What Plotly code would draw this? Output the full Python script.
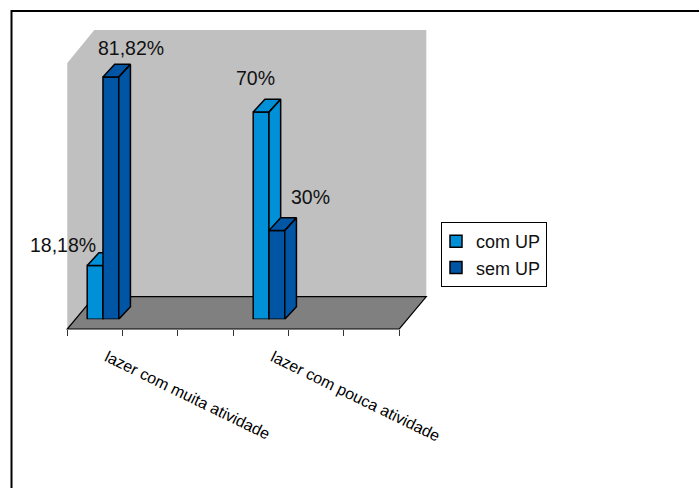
import plotly.graph_objects as go

W, H = 699, 488

# ---- data ----
categories = ["lazer com muita atividade", "lazer com pouca atividade"]
series_names = ["com UP", "sem UP"]
com_up = [18.18, 70]
sem_up = [81.82, 30]
com_labels = ["18,18%", "70%"]
sem_labels = ["81,82%", "30%"]
category_slots = [0, 3]   # chart has six slots, the categories sit in slots 0 and 3
colors = ["#0090D8", "#0055A5"]

# ---- helpers (pixel layout -> paper fractions) ----
def px(x): return x / W
def py(y): return 1 - y / H

plot_l, plot_r = 75.3, 407.3
base_y, top_y = 319.3, 52.7
floor_l, floor_r, floor_front, floor_back = 67.3, 399.3, 329, 296.6
depth_x = 27
wall_top = 30

bar_w = 0.285
dx = 11.7 / 55.33   # depth of a bar in x units
dy = 12.6 / 2.962   # depth of a bar in y units


def faces(xs, ys, left):
    """outline of top + side faces of each bar, derived from the values"""
    X, Y = [], []
    for x, y in zip(xs, ys):
        x0 = x + 0.5 + left
        x1 = x0 + bar_w
        X += [x0, x0 + dx, x1 + dx, x1, x0, None]
        Y += [y, y + dy, y + dy, y, y, None]
        X += [x1, x1 + dx, x1 + dx, x1, x1, None]
        Y += [y, y + dy, dy, 0, y, None]
    return X, Y


fig = go.Figure()
slots = [s + 0.5 for s in category_slots]

# lower layer: first series
fig.add_trace(go.Bar(x=slots, y=com_up, name=series_names[0], marker_color=colors[0],
                     marker_line=dict(color="black", width=1.5), width=bar_w,
                     offset=-bar_w, xaxis="x", yaxis="y", hoverinfo="skip"))
X, Y = faces(category_slots, com_up, -bar_w)
fig.add_trace(go.Scatter(x=X, y=Y, mode="lines", fill="toself", fillcolor=colors[0],
                         line=dict(color="black", width=1.5), showlegend=False,
                         xaxis="x", yaxis="y", hoverinfo="skip"))

# upper layer: second series
fig.add_trace(go.Bar(x=slots, y=sem_up, name=series_names[1], marker_color=colors[1],
                     marker_line=dict(color="black", width=1.5), width=bar_w,
                     offset=0, xaxis="x2", yaxis="y2", hoverinfo="skip"))
X, Y = faces(category_slots, sem_up, 0)
fig.add_trace(go.Scatter(x=X, y=Y, mode="lines", fill="toself", fillcolor=colors[1],
                         line=dict(color="black", width=1.5), showlegend=False,
                         xaxis="x2", yaxis="y2", hoverinfo="skip"))

shapes = [
    dict(type="rect", xref="paper", yref="paper", x0=px(11.5), x1=px(760), y0=py(11), y1=py(540),
         line=dict(color="black", width=2), layer="below"),
    dict(type="path", xref="paper", yref="paper", layer="below", line=dict(width=0),
         fillcolor="#C0C0C0",
         path=f"M{px(floor_l)},{py(floor_front)}L{px(floor_l)},{py(floor_front-266)}"
              f"L{px(floor_l+depth_x)},{py(wall_top)}L{px(floor_r+depth_x)},{py(wall_top)}"
              f"L{px(floor_r+depth_x)},{py(floor_back)}L{px(floor_l+depth_x)},{py(floor_back)}Z"),
    dict(type="path", xref="paper", yref="paper", layer="below",
         line=dict(color="black", width=1.2), fillcolor="#808080",
         path=f"M{px(floor_l)},{py(floor_front)}L{px(floor_r)},{py(floor_front)}"
              f"L{px(floor_r+depth_x)},{py(floor_back)}L{px(floor_l+depth_x)},{py(floor_back)}Z"),
]

xdom = [px(plot_l), px(plot_r)]
ydom = [py(base_y), py(top_y)]
lblfont = dict(family="Liberation Sans", size=19.5, color="#111111")

annotations = []
for x, y, t, xs, ys in zip(
    [slots[0] - bar_w / 2, slots[1] - bar_w / 2, slots[0] + bar_w / 2, slots[1] + bar_w / 2],
    com_up + sem_up, com_labels + sem_labels,
    [-32, -6, 20, 34], [20, 34, 29, 33],
):
    annotations.append(dict(x=x, y=y, text=t, xref="x", yref="y", showarrow=False,
                            xshift=xs, yshift=ys, font=lblfont))

axis_off = dict(visible=False, fixedrange=True, automargin=False)

fig.update_layout(
    width=W, height=H, autosize=False,
    margin=dict(l=0, r=0, t=0, b=0),
    paper_bgcolor="white", plot_bgcolor="rgba(0,0,0,0)",
    barmode="overlay", shapes=shapes, annotations=annotations,
    showlegend=True,
    legend=dict(x=px(441), y=py(222), xanchor="left", yanchor="top",
                bgcolor="white", bordercolor="black", borderwidth=1, indentation=-6,
                font=dict(family="Liberation Sans", size=18, color="#111111"),
                traceorder="normal", itemclick=False, itemdoubleclick=False),
    xaxis=dict(domain=xdom, range=[0, 6], **axis_off),
    yaxis=dict(domain=ydom, range=[0, 90], **axis_off),
    xaxis2=dict(range=[0, 6], overlaying="x", **axis_off),
    yaxis2=dict(range=[0, 90], overlaying="y", **axis_off),
    xaxis3=dict(domain=[px(floor_l), px(floor_r)], range=[0, 6], anchor="y3", fixedrange=True,
                automargin=False, showgrid=False, zeroline=False, showline=False,
                tickmode="array", tickvals=slots, ticktext=categories,
                ticks="outside", ticklen=0, tickangle=26, ticklabelshift=12,
                ticklabelstandoff=12,
                tickfont=dict(family="Liberation Sans", size=16, color="black"),
                minor=dict(ticks="outside", ticklen=6, tickwidth=1, tickcolor="#333333",
                           tick0=0, dtick=1, showgrid=False)),
    yaxis3=dict(domain=[py(floor_front), py(floor_back)], range=[0, 1], anchor="x3", **axis_off),
)
fig.add_trace(go.Scatter(x=[0], y=[0], xaxis="x3", yaxis="y3", mode="markers",
                         marker=dict(opacity=0), showlegend=False, hoverinfo="skip"))

fig.write_html("out.html", config={"displayModeBar": False},
               post_script="document.body.style.margin='0';document.body.style.overflow='hidden';")
